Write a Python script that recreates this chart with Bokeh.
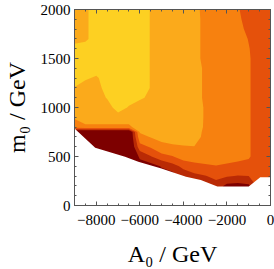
from bokeh.plotting import figure
from bokeh.models import FixedTicker, LinearAxis
from bokeh.embed import file_html
from bokeh.resources import INLINE

# ---- data ----
a0_grid = [-9000, -8500, -8000, -7500, -7000, -6500, -6000, -5500, -5000, -4500,
           -4000, -3500, -3000, -2500, -2000, -1500, -1000, -500, 0]
m0_grid = [0, 100, 200, 300, 400, 500, 600, 700, 750, 800, 900, 1000,
           1100, 1200, 1300, 1400, 1500, 1600, 1700, 1800, 1900, 2000]

# band index field, rows listed from m0 = 2000 down to m0 = 0
z_2000 = [5, 5.3, 6, 6, 6, 6, 6, 5.45, 5, 5, 5, 5, 4.0, 4, 4, 3.6, 3, 3, 3]
z_1900 = [5, 5.3, 6, 6, 6, 6, 6, 5.45, 5, 5, 5, 5, 4.1, 4, 4, 3.75, 3, 3, 3]
z_1800 = [5, 5.3, 6, 6, 6, 6, 6, 5.45, 5, 5, 5, 5, 4.1, 4, 4, 4, 3.1, 3, 3]
z_1700 = [5, 5.3, 6, 6, 6, 6, 6, 5.45, 5, 5, 5, 5, 4.1, 4, 4, 4, 3.45, 3, 3]
z_1600 = [6, 6, 6, 6, 6, 6, 6, 5.45, 5, 5, 5, 5, 4.1, 4, 4, 4, 3.55, 3, 3]
z_1500 = [6, 6, 6, 6, 6, 6, 6, 5.45, 5, 5, 5, 5, 4.1, 4, 4, 4, 3.6, 3, 3]
z_1400 = [6, 6, 6, 6, 6, 6, 6, 5.45, 5, 5, 5, 5, 4.3, 4, 4, 4, 3.6, 3, 3]
z_1300 = [6, 5.65, 5.35, 6, 6, 6, 6, 5.45, 5, 5, 5, 5, 4.3, 4, 4, 4, 3.6, 3, 3]
z_1200 = [5.45, 5, 5, 6, 6, 6, 6, 5.45, 5, 5, 5, 5, 4.3, 4, 4, 4, 3.6, 3, 3]
z_1100 = [5, 5, 5, 5.57, 6, 6, 5.65, 5.3, 5, 5, 5, 5, 4.3, 4, 4, 4, 3.6, 3, 3]
z_1000 = [5, 5, 5, 5, 6, 5.4, 5, 5, 5, 5, 5, 5, 4.4, 4, 4, 4, 3.6, 3, 3]
z_900 = [4.6, 5, 5, 5, 5, 5, 5, 5, 5, 5, 5, 5, 4.4, 4, 4, 4, 3.6, 3, 3]
z_800 = [4, 4.3, 4.3, 4.3, 4.3, 4.3, 5, 5, 5, 5, 5, 5, 4.375, 4, 4, 4, 3.6, 3, 3]
z_750 = [0, 0, 0, 0, 0, 0, 4.585, 4.775, 4.82, 4.9, 4.95, 5, 4.27, 4, 4, 4, 3.6, 3, 3]
z_700 = [0, 0, 0, 0, 0, 0, 4.17, 4.55, 4.64, 4.8, 4.9, 5, 4.17, 4, 4, 4, 3.6, 3, 3]
z_600 = [0, 0, 0, 0, 0, 0, 3.14, 3.61, 4.37, 4.4, 4.45, 4.48, 4, 4, 4, 4, 3.6, 3, 3]
z_500 = [0, 0, 0, 0, 0, 0, 1.7, 2.45, 3.11, 3.45, 3.99, 3.95, 4, 4, 4, 3.8, 3.6, 3, 3]
z_400 = [0, 0, 0, 0, 0, 0, 1, 1, 1.59, 2.11, 2.76, 3.2, 3.35, 3.45, 3.3, 3.2, 3.2, 3, 3]
z_300 = [0, 0, 0, 0, 0, 0, 0, 1, 1, 1, 1.9, 2.2, 2.45, 2.77, 2.6, 2.45, 2.5, 3, 3]
z_200 = [0, 0, 0, 0, 0, 0, 0, 1, 1, 1, 1, 1, 1.5, 2.1, 1.2, 1.1, 1.3, 3, 3]
z_100 = [0, 0, 0, 0, 0, 0, 0, 1, 1, 1, 1, 1, 1, 1.8, 1, 1, 1, 3, 3]
z_0 = [0, 0, 0, 0, 0, 0, 0, 1, 1, 1, 1, 1, 1, 1.8, 1, 1, 1, 3, 3]

z_field = [z_0, z_100, z_200, z_300, z_400, z_500, z_600, z_700, z_750, z_800,
           z_900, z_1000, z_1100, z_1200, z_1300, z_1400, z_1500, z_1600,
           z_1700, z_1800, z_1900, z_2000]

band_lower = [-1, 1.5, 2.5, 3.5, 4.5, 5.5]
band_colors = ["#7D0000", "#B92A05", "#E5510B", "#F7810F", "#FBAA1B", "#FDD022"]

# excluded (white) region: upper edge
white_a0 = [-9000, -8050, -6680, -6070, -5010, -3880, -3200, -2440, -1000, -470, 0]
white_m0 = [785, 590, 497, 446, 378, 294, 260, 193, 193, 288, 288]

x_ticks = [-8000, -6000, -4000, -2000, 0]
x_tick_labels = ["\u22128000", "\u22126000", "\u22124000", "\u22122000", "0"]
x_minor = list(range(-9000, 1, 500))
y_ticks = [0, 500, 1000, 1500, 2000]
y_tick_labels = ["0", "500", "1000", "1500", "2000"]
y_minor = list(range(0, 2001, 100))

x_title = "A\u2080 / GeV"
y_title = "m\u2080 / GeV"

# ---- figure ----
p = figure(width=274, height=269, x_range=(-9000, 0), y_range=(0, 2000),
           output_backend="svg", toolbar_location=None,
           min_border_left=72, min_border_right=4, min_border_top=9,
           min_border_bottom=63)
p.xgrid.visible = False
p.ygrid.visible = False
p.outline_line_color = "#555555"
p.border_fill_color = "white"
p.background_fill_color = "white"

for lo, col in zip(band_lower, band_colors):
    p.contour(x=a0_grid, y=m0_grid, z=z_field, levels=[lo, 99],
              fill_color=col, line_color=None)

p.varea(x=white_a0, y1=0, y2=white_m0, fill_color="white")

FRAME = "#555555"
SERIF = "Liberation Serif"


def style_axis(ax, show_labels):
    ax.axis_line_color = FRAME
    ax.major_tick_line_color = FRAME
    ax.minor_tick_line_color = FRAME
    ax.major_tick_in = 4
    ax.major_tick_out = 0
    ax.minor_tick_in = 2
    ax.minor_tick_out = 0
    ax.major_label_text_font = SERIF
    if show_labels:
        ax.major_label_text_color = "black"
        ax.major_label_text_font_size = "15px"
    else:
        ax.major_label_text_color = None
        ax.major_label_text_font_size = "1px"
        ax.major_label_standoff = 0


xb = p.xaxis[0]
xb.ticker = FixedTicker(ticks=x_ticks, minor_ticks=x_minor)
xb.major_label_overrides = dict(zip(x_ticks, x_tick_labels))
style_axis(xb, True)
xb.major_label_standoff = 9
xb.axis_label = x_title
xb.axis_label_text_font = SERIF
xb.axis_label_text_font_style = "normal"
xb.axis_label_text_font_size = "24px"
xb.axis_label_text_color = "black"
xb.axis_label_standoff = 13

yl = p.yaxis[0]
yl.ticker = FixedTicker(ticks=y_ticks, minor_ticks=y_minor)
yl.major_label_overrides = dict(zip(y_ticks, y_tick_labels))
style_axis(yl, True)
yl.major_label_standoff = 4
yl.axis_label = y_title
yl.axis_label_text_font = SERIF
yl.axis_label_text_font_style = "normal"
yl.axis_label_text_font_size = "24px"
yl.axis_label_text_color = "black"
yl.axis_label_standoff = 8

xt = LinearAxis(ticker=FixedTicker(ticks=x_ticks, minor_ticks=x_minor))
style_axis(xt, False)
p.add_layout(xt, "above")
yr = LinearAxis(ticker=FixedTicker(ticks=y_ticks, minor_ticks=y_minor))
style_axis(yr, False)
p.add_layout(yr, "right")

open("out.html", "w").write(file_html(p, INLINE))
